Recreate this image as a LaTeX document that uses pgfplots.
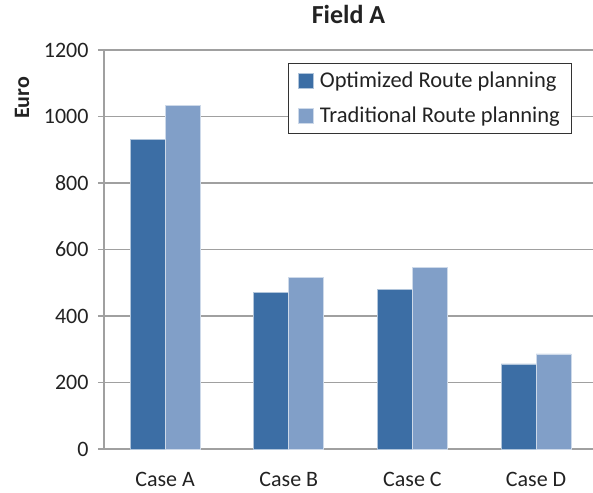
\documentclass[border=0pt]{standalone}
\usepackage{pgfplots}
\pgfplotsset{compat=1.18}
\usepackage{fontspec}
\setmainfont{Carlito}
\definecolor{darkb}{HTML}{3C6EA5}
\definecolor{lightb}{HTML}{819FC8}
\definecolor{gridg}{HTML}{A0A0A0}
\definecolor{txt}{HTML}{222222}
\begin{document}
\fontsize{22bp}{26bp}\selectfont
\begin{tikzpicture}
\useasboundingbox (-104bp,-44bp) rectangle (489bp,449bp);
\begin{axis}[
  at={(0,0)}, anchor=south west,
  scale only axis, clip=false,
  width=489bp, height=399bp,
  xmin=-0.494, xmax=3.46,
  ymin=0, ymax=1200,
  ytick={0,200,...,1200},
  xtick={0,1,2,3},
  xticklabels={Case A,Case B,Case C,Case D},
  /pgf/number format/assume math mode=true,
  /pgf/number format/1000 sep={},
  ymajorgrids,
  grid style={gridg, line width=1.4pt},
  axis x line*=bottom, axis y line*=left,
  axis line style={gridg, line width=1.4pt, -},
  major tick length=6bp,
  ytick style={gridg, line width=1.4pt},
  xtick style={draw=none},
  tick align=outside,
  ticklabel style={text=txt},
  yticklabel style={xshift=-2bp},
  xticklabel style={yshift=-10bp},
  ybar, bar width=0.283,
  title={\fontsize{26bp}{30bp}\selectfont\bfseries Field A},
  title style={text=txt, anchor=center, at={(rel axis cs:0.5,1)}, yshift=30bp},
  legend style={at={(rel axis cs:0.376,0.967)}, anchor=north west,
    draw=black!80, line width=0.8pt, inner xsep=10bp, inner ysep=6bp,
    row sep=12bp, text=txt, font=\fontsize{22.5bp}{26bp}\selectfont},
  legend cell align=left,
  legend image code/.code={\fill[#1] (0bp,-7.5bp) rectangle (15bp,7.5bp); \path (19bp,0bp);},
]
\addplot[fill=darkb, draw=white!60!darkb, line width=0.6pt, bar shift=-0.1415] coordinates {(0,932) (1,472) (2,481) (3,256)};
\addplot[fill=lightb, draw=white!60!lightb, line width=0.6pt, bar shift=0.1415] coordinates {(0,1034) (1,517) (2,547) (3,286)};
\legend{Optimized Route planning, Traditional Route planning}
\node[rotate=90, text=txt, font=\fontsize{22bp}{26bp}\selectfont\bfseries] at ([xshift=-82bp]rel axis cs:0,0.88) {Euro};
\end{axis}
\end{tikzpicture}
\end{document}
